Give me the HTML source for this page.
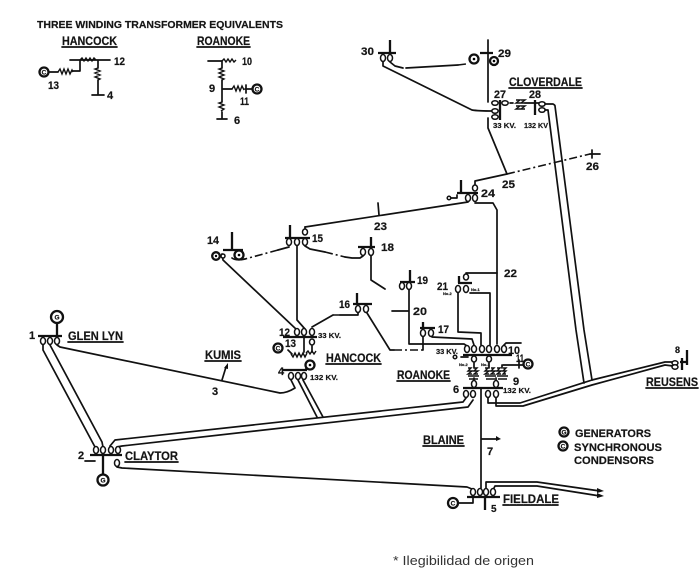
<!DOCTYPE html>
<html><head><meta charset="utf-8"><style>
html,body{margin:0;padding:0;background:#fff}
svg{display:block}
.l{fill:none;stroke:#111;stroke-width:1.7;stroke-linejoin:round;stroke-linecap:round}
.d{fill:none;stroke:#111;stroke-width:1.6;stroke-dasharray:8 3 2 3}
.b{fill:none;stroke:#111;stroke-width:2.3}
.c{fill:#fff;stroke:#111;stroke-width:1.5}
.k{fill:none;stroke:#111;stroke-width:1.4}
text{font-family:"Liberation Sans",sans-serif;font-weight:bold;fill:#151515;font-size:10px;stroke:#151515;stroke-width:.2}
.n{font-size:11px}
.t{font-size:11.5px}
.s{font-size:7px}
.x{font-size:4px}
.i{font-size:6.5px;text-anchor:middle}
.g{fill:#fff;stroke:#111;stroke-width:2.3}
</style></head><body>
<svg width="700" height="575" viewBox="0 0 700 575" xmlns="http://www.w3.org/2000/svg">
<rect width="700" height="575" fill="#fff"/>
<!-- titles -->
<text x="37" y="28" textLength="246" lengthAdjust="spacingAndGlyphs" style="font-size:10px">THREE WINDING TRANSFORMER EQUIVALENTS</text>
<text class="t" x="62" y="45" textLength="55" lengthAdjust="spacingAndGlyphs">HANCOCK</text>
<text class="t" x="197" y="45" textLength="53" lengthAdjust="spacingAndGlyphs">ROANOKE</text>
<path class="l" d="M62 47H117M197 47H250"/>
<!-- Hancock equiv -->
<path class="l" d="M70 60H110M98 60V68M98 80V95M92 95H104M49 72H58M73 71H80V60"/>
<path class="k" d="M58 72l2-3 2 5 2-5 2 5 2-5 2 5 2-4 1 2M98 68l-3 1 5 2-5 2 5 2-5 2 5 2-2 1"/>
<path class="k" d="M80 60l2-2 2 3 2-3 2 3 2-3 2 3 2-3 2 2"/>
<circle class="g" cx="44" cy="72" r="4.5"/><text class="i" x="44" y="74.5">C</text>
<text class="n" x="48" y="89" textLength="11" lengthAdjust="spacingAndGlyphs">13</text>
<text class="n" x="114" y="65" textLength="11" lengthAdjust="spacingAndGlyphs">12</text>
<text class="n" x="107" y="99">4</text>
<!-- Roanoke equiv -->
<path class="l" d="M208 61H222M222 61V68M222 80V102M222 112V119M217 119H227M222 89H232M245 89H252M246 85V93"/>
<path class="k" d="M222 61l2-2 2 3 2-3 2 3 2-3 2 3 2-2M222 68l-3 1 5 2-5 2 5 2-5 2 5 2-2 1M232 89l2-3 2 5 2-5 2 5 2-5 2 4M222 102l-3 1 5 2-5 2 5 2-3 2"/>
<circle class="g" cx="257" cy="89" r="4.5"/><text class="i" x="257" y="91.5">C</text>
<text class="n" x="242" y="65" textLength="10" lengthAdjust="spacingAndGlyphs">10</text>
<text class="n" x="209" y="92">9</text>
<text class="n" x="240" y="105" textLength="9" lengthAdjust="spacingAndGlyphs">11</text>
<text class="n" x="234" y="124">6</text>
<!-- 30, 29 -->
<path class="b" d="M378 53H396M390 40V53M480 53H493"/>
<path class="l" d="M488 40V102M383 62V66L472 110Q478 111 493 111M390 62L395 66 403 68M406 68L458 65"/>
<path class="d" d="M458 65L466 64"/>
<ellipse class="c" cx="383" cy="58" rx="2.5" ry="3.5"/><ellipse class="c" cx="390" cy="58" rx="2.5" ry="3.5"/>
<circle class="g" cx="474" cy="59" r="4.5"/><circle cx="474" cy="59" r="1.3"/>
<circle class="g" cx="494" cy="61" r="4"/><circle cx="494" cy="61" r="1.3"/>
<text class="n" x="361" y="55" textLength="13" lengthAdjust="spacingAndGlyphs">30</text>
<text class="n" x="498" y="57" textLength="13" lengthAdjust="spacingAndGlyphs">29</text>
<!-- Cloverdale -->
<text class="t" x="509" y="86" textLength="73" lengthAdjust="spacingAndGlyphs">CLOVERDALE</text>
<path class="l" d="M509 88H582"/>
<text class="n" x="494" y="98" textLength="12" lengthAdjust="spacingAndGlyphs">27</text>
<text class="n" x="529" y="98" textLength="12" lengthAdjust="spacingAndGlyphs">28</text>
<path class="b" d="M500 100V120M535 100V115"/>
<path class="l" d="M488 118V128L507 174M510 103H513M525 103H541"/>
<path class="k" d="M516 100h4l-4 3h5M516 106h4l-4 3h5M521 100h4l-4 3h4M521 106h4l-4 3h4"/>
<ellipse class="c" cx="495" cy="103" rx="3.2" ry="2.3"/><ellipse class="c" cx="495" cy="111" rx="3.2" ry="2.3"/><ellipse class="c" cx="495" cy="117" rx="3.2" ry="2.3"/><ellipse class="c" cx="505" cy="103" rx="3.2" ry="2.3"/>
<ellipse class="c" cx="542" cy="104" rx="3.2" ry="2.3"/><ellipse class="c" cx="542" cy="110" rx="3.2" ry="2.3"/>
<text class="s" x="493" y="128" textLength="23" lengthAdjust="spacingAndGlyphs">33 KV.</text>
<text class="s" x="524" y="128" textLength="24" lengthAdjust="spacingAndGlyphs">132 KV</text>
<path class="l" d="M545 104H553Q555 105 555 106L584 330 592 380M545 110H548L576 330 584 383"/>
<!-- 25, 26 -->
<path class="l" d="M475 187V181L507 174"/>
<path class="d" d="M507 174L590 154"/>
<path class="l" d="M590 154H600M592 150V158"/>
<text class="n" x="502" y="188" textLength="13" lengthAdjust="spacingAndGlyphs">25</text>
<text class="n" x="586" y="170" textLength="13" lengthAdjust="spacingAndGlyphs">26</text>
<!-- 24 -->
<path class="b" d="M457 193H478M461 180V193"/>
<path class="l" d="M448 198H457V195M475 203H493L497 210V344M468 202L305 227"/>
<ellipse class="c" cx="468" cy="198" rx="2.5" ry="3.5"/><ellipse class="c" cx="475" cy="198" rx="2.5" ry="3.5"/><ellipse class="c" cx="475" cy="188" rx="2.5" ry="3"/>
<circle class="c" cx="449" cy="198" r="1.8"/>
<text class="n" x="481" y="197" textLength="14" lengthAdjust="spacingAndGlyphs">24</text>
<path class="l" d="M379 215L378 203"/>
<text class="n" x="374" y="230" textLength="13" lengthAdjust="spacingAndGlyphs">23</text>
<!-- 15 -->
<path class="b" d="M285 238H310M290 225V238"/>
<path class="l" d="M305 227V229M297 245V320L305 329M223 260L297 330M222 254L223 260M289 247L278 250M232 258Q236 261 245 259M305 246L310 249 325 252M345 257L352 258H360L363 256"/>
<path class="d" d="M278 250L245 259M325 252L345 257"/>
<ellipse class="c" cx="289" cy="242" rx="2.5" ry="3.5"/><ellipse class="c" cx="297" cy="242" rx="2.5" ry="3.5"/><ellipse class="c" cx="305" cy="242" rx="2.5" ry="3.5"/><ellipse class="c" cx="305" cy="232" rx="2.5" ry="3"/>
<text class="n" x="312" y="242" textLength="11" lengthAdjust="spacingAndGlyphs">15</text>
<!-- 14 -->
<path class="b" d="M223 250H243M232 232V250"/>
<circle class="g" cx="216" cy="256" r="3.8"/><circle cx="216" cy="256" r="1.2"/>
<circle class="c" cx="223" cy="256" r="2"/>
<circle class="g" cx="239" cy="255" r="4.5"/><circle cx="239" cy="255" r="1.3"/>
<text class="n" x="207" y="244" textLength="12" lengthAdjust="spacingAndGlyphs">14</text>
<!-- 18 -->
<path class="b" d="M358 247H375M371 237V247"/>
<path class="l" d="M371 256V280L385 289"/>
<ellipse class="c" cx="363" cy="252" rx="2.5" ry="3.5"/><ellipse class="c" cx="371" cy="252" rx="2.5" ry="3.5"/>
<text class="n" x="381" y="251" textLength="13" lengthAdjust="spacingAndGlyphs">18</text>
<!-- 16 -->
<path class="b" d="M353 304H372M357 293V304"/>
<path class="l" d="M358 313V315H340M333 315L312 327M367 313L390 350H394"/>
<path class="d" d="M340 315H333M394 350H423"/>
<ellipse class="c" cx="358" cy="309" rx="2.5" ry="3.5"/><ellipse class="c" cx="366" cy="309" rx="2.5" ry="3.5"/>
<text class="n" x="339" y="308" textLength="11" lengthAdjust="spacingAndGlyphs">16</text>
<!-- Hancock bus -->
<path class="b" d="M283 337H317M283 370H307"/>
<path class="l" d="M312 346V352M308 366L305 370M304 337V352"/>
<ellipse class="c" cx="297" cy="332" rx="2.5" ry="3.5"/><ellipse class="c" cx="304" cy="332" rx="2.5" ry="3.5"/><ellipse class="c" cx="312" cy="332" rx="2.5" ry="3.5"/><ellipse class="c" cx="312" cy="342" rx="2.5" ry="3"/>
<text class="n" x="279" y="336" textLength="11" lengthAdjust="spacingAndGlyphs">12</text>
<text class="s" x="318" y="338" textLength="23" lengthAdjust="spacingAndGlyphs">33 KV.</text>
<text class="n" x="285" y="347" textLength="11" lengthAdjust="spacingAndGlyphs">13</text>
<circle class="g" cx="278" cy="348" r="4.5"/><text class="i" x="278" y="350.5">C</text>
<path class="l" d="M288 350L292 354"/>
<path class="k" d="M291 354l2 3 2-4 2 4 2-4 2 4 2-4 2 4 2-4M306 353l2-2 2 3 2-3 2 3 2-3"/>
<circle class="g" cx="310" cy="365" r="4.5"/><circle cx="310" cy="365" r="1.3"/>
<ellipse class="c" cx="291" cy="376" rx="2.5" ry="3.5"/><ellipse class="c" cx="298" cy="376" rx="2.5" ry="3.5"/><ellipse class="c" cx="304" cy="376" rx="2.5" ry="3.5"/>
<text class="n" x="278" y="375">4</text>
<text class="s" x="310" y="380" textLength="28" lengthAdjust="spacingAndGlyphs">132 KV.</text>
<text class="t" x="326" y="362" textLength="55" lengthAdjust="spacingAndGlyphs">HANCOCK</text>
<path class="l" d="M326 364H381"/>
<!-- Kumis, line 3 -->
<text class="t" x="205" y="359" textLength="36" lengthAdjust="spacingAndGlyphs">KUMIS</text>
<path class="l" d="M205 361H241"/>
<path class="l" d="M57 345L60 347 280 393Q287 393 295 388L291 380M222 380L226 367"/>
<path d="M224 368L228 363 228 369Z" fill="#111"/>
<text class="n" x="212" y="395">3</text>
<path class="l" d="M298 380L317 417M303 380L323 417"/>
<!-- Glen Lyn -->
<path class="b" d="M38 336H62M57 323V336"/>
<circle class="g" cx="57" cy="317" r="6"/><text class="i" x="57" y="319.5">G</text>
<ellipse class="c" cx="43" cy="341" rx="2.5" ry="3.5"/><ellipse class="c" cx="50" cy="341" rx="2.5" ry="3.5"/><ellipse class="c" cx="57" cy="341" rx="2.5" ry="3.5"/>
<text class="n" x="29" y="339">1</text>
<text class="t" x="68" y="340" textLength="55" lengthAdjust="spacingAndGlyphs">GLEN LYN</text>
<path class="l" d="M68 342H123"/>
<path class="l" d="M43 345V350L95 447M50 345L102 442 103 447"/>
<!-- Claytor -->
<path class="b" d="M90 455H122M103 453V475"/>
<path class="l" d="M85 461H95M110 446L115 440 463 402 466 398M117 447L122 446 468 407 473 400M117 467L122 468 467 487 472 489"/>
<ellipse class="c" cx="96" cy="450" rx="2.5" ry="3.5"/><ellipse class="c" cx="103" cy="450" rx="2.5" ry="3.5"/><ellipse class="c" cx="111" cy="450" rx="2.5" ry="3.5"/><ellipse class="c" cx="118" cy="450" rx="2.5" ry="3.5"/><ellipse class="c" cx="117" cy="463" rx="2.5" ry="3.5"/>
<circle class="g" cx="103" cy="480" r="5.5"/><text class="i" x="103" y="482.5">G</text>
<text class="n" x="78" y="459">2</text>
<text class="t" x="125" y="460" textLength="53" lengthAdjust="spacingAndGlyphs">CLAYTOR</text>
<path class="l" d="M125 462H178"/>
<!-- 19 / 20 -->
<path class="b" d="M400 282H415M410 270V282"/>
<path class="l" d="M409 290V344H464L467 346M392 311H409"/>
<ellipse class="c" cx="402" cy="286" rx="2.5" ry="3.5"/><ellipse class="c" cx="409" cy="286" rx="2.5" ry="3.5"/>
<text class="n" x="417" y="284" textLength="11" lengthAdjust="spacingAndGlyphs">19</text>
<text class="n" x="413" y="315" textLength="14" lengthAdjust="spacingAndGlyphs">20</text>
<!-- 17 -->
<path class="b" d="M420 328H435M423 322V328"/>
<path class="l" d="M423 337V350M432 337L472 339 474 345"/>
<ellipse class="c" cx="423" cy="333" rx="2.5" ry="3.5"/><ellipse class="c" cx="431" cy="333" rx="2.5" ry="3.5"/>
<text class="n" x="438" y="333" textLength="11" lengthAdjust="spacingAndGlyphs">17</text>
<!-- 21 / 22 -->
<path class="b" d="M458 283H472M459 276V283"/>
<path class="l" d="M466 273H497M470 293H490V345M458 293V332L481 333V345"/>
<ellipse class="c" cx="458" cy="289" rx="2.5" ry="3.5"/><ellipse class="c" cx="466" cy="289" rx="2.5" ry="3.5"/><ellipse class="c" cx="466" cy="277" rx="2.5" ry="3"/>
<text class="n" x="437" y="290" textLength="11" lengthAdjust="spacingAndGlyphs">21</text>
<text class="n" x="504" y="277" textLength="13" lengthAdjust="spacingAndGlyphs">22</text>
<text class="x" x="443" y="295">No.2</text><text class="x" x="471" y="291">No.1</text>
<!-- Roanoke main -->
<path class="b" d="M463 355H512M463 388H503"/>
<path class="l" d="M461 357H468M504 345L506 343H521M474 363V368M489 363V368M502 365V368M503 365H523M519 360V368M474 378V381M496 378V381"/>
<ellipse class="c" cx="467" cy="349" rx="2.5" ry="3.5"/><ellipse class="c" cx="474" cy="349" rx="2.5" ry="3.5"/><ellipse class="c" cx="482" cy="349" rx="2.5" ry="3.5"/><ellipse class="c" cx="489" cy="349" rx="2.5" ry="3.5"/><ellipse class="c" cx="497" cy="349" rx="2.5" ry="3.5"/><ellipse class="c" cx="504" cy="349" rx="2.5" ry="3.5"/>
<ellipse class="c" cx="474" cy="359" rx="2.5" ry="3"/><ellipse class="c" cx="489" cy="359" rx="2.5" ry="3"/>
<circle class="c" cx="455" cy="357" r="1.8"/>
<text class="x" x="459" y="366">No.2</text><text class="x" x="481" y="366">No.1</text>
<path class="k" d="M468 368h3l-3 3h4l-4 3h4M474 368h3l-3 3h4l-4 3h4M468 376h11M469 379h9M485 368h3l-3 3h4l-4 3h4M491 368h3l-3 3h4l-4 3h4M485 376h11M486 379h9M497 368h3l-3 3h4l-4 3h4M503 368h3l-3 3h3l-3 3h3M497 376h11M498 379h9"/>
<ellipse class="c" cx="474" cy="384" rx="2.5" ry="3.5"/><ellipse class="c" cx="496" cy="384" rx="2.5" ry="3.5"/>
<text class="s" x="436" y="354" textLength="22" lengthAdjust="spacingAndGlyphs">33 KV.</text>
<text class="n" x="508" y="354" textLength="12" lengthAdjust="spacingAndGlyphs">10</text>
<text class="n" x="516" y="362" textLength="8" lengthAdjust="spacingAndGlyphs">11</text>
<circle class="g" cx="528" cy="364" r="4.5"/><text class="i" x="528" y="366.5">C</text>
<text class="n" x="513" y="385">9</text>
<text class="s" x="503" y="393" textLength="28" lengthAdjust="spacingAndGlyphs">132 KV.</text>
<text class="n" x="453" y="393">6</text>
<text class="t" x="397" y="379" textLength="53" lengthAdjust="spacingAndGlyphs">ROANOKE</text>
<path class="l" d="M397 381H450"/>
<ellipse class="c" cx="466" cy="394" rx="2.5" ry="3.5"/><ellipse class="c" cx="473" cy="394" rx="2.5" ry="3.5"/><ellipse class="c" cx="488" cy="394" rx="2.5" ry="3.5"/><ellipse class="c" cx="496" cy="394" rx="2.5" ry="3.5"/>
<path class="l" d="M481 388V488M481 439H497M488 398V403H520L592 380 665 362H673M496 398V406H523L592 385 665 365 673 366"/>
<path d="M496 436L501 439 496 441Z" fill="#111"/>
<!-- Reusens -->
<ellipse class="c" cx="675" cy="363" rx="3" ry="2.2"/><ellipse class="c" cx="675" cy="367" rx="3" ry="2.2"/>
<path class="b" d="M680 362H688M682 358V370M687 350V365"/>
<text class="n" x="675" y="353" style="font-size:9px">8</text>
<text class="t" x="646" y="386" textLength="52" lengthAdjust="spacingAndGlyphs">REUSENS</text>
<path class="l" d="M646 388H698"/>
<!-- Blaine -->
<text class="t" x="423" y="444" textLength="41" lengthAdjust="spacingAndGlyphs">BLAINE</text>
<path class="l" d="M423 446H464"/>
<text class="n" x="487" y="455">7</text>
<!-- Legend -->
<circle class="g" cx="564" cy="432" r="4.5"/><text class="i" x="564" y="434.5">G</text>
<circle class="g" cx="563" cy="446" r="4.5"/><text class="i" x="563" y="448.5">C</text>
<text class="n" x="575" y="437" textLength="76" lengthAdjust="spacingAndGlyphs">GENERATORS</text>
<text class="n" x="574" y="451" textLength="88" lengthAdjust="spacingAndGlyphs">SYNCHRONOUS</text>
<text class="n" x="574" y="464" textLength="80" lengthAdjust="spacingAndGlyphs">CONDENSORS</text>
<!-- Fieldale -->
<path class="b" d="M467 497H500M485 497V510"/>
<path class="l" d="M459 503H473V497M486 488V482H537L600 491M494 488L495 486H537L600 496"/>
<path d="M597 488L604 491 597 493ZM597 493L604 496 597 498Z" fill="#111"/>
<ellipse class="c" cx="473" cy="492" rx="2.5" ry="3.5"/><ellipse class="c" cx="480" cy="492" rx="2.5" ry="3.5"/><ellipse class="c" cx="486" cy="492" rx="2.5" ry="3.5"/><ellipse class="c" cx="493" cy="492" rx="2.5" ry="3.5"/>
<circle class="g" cx="453" cy="503" r="5"/><text class="i" x="453" y="505.5">C</text>
<text class="n" x="491" y="512" style="font-size:10px">5</text>
<text class="t" x="503" y="503" textLength="56" lengthAdjust="spacingAndGlyphs">FIELDALE</text>
<path class="l" d="M503 505H559" stroke-dasharray="6 1"/>
<text x="393" y="565" textLength="141" lengthAdjust="spacingAndGlyphs" style="font-weight:normal;font-size:13px;fill:#333;stroke:none">* Ilegibilidad de origen</text>
</svg>
</body></html>
